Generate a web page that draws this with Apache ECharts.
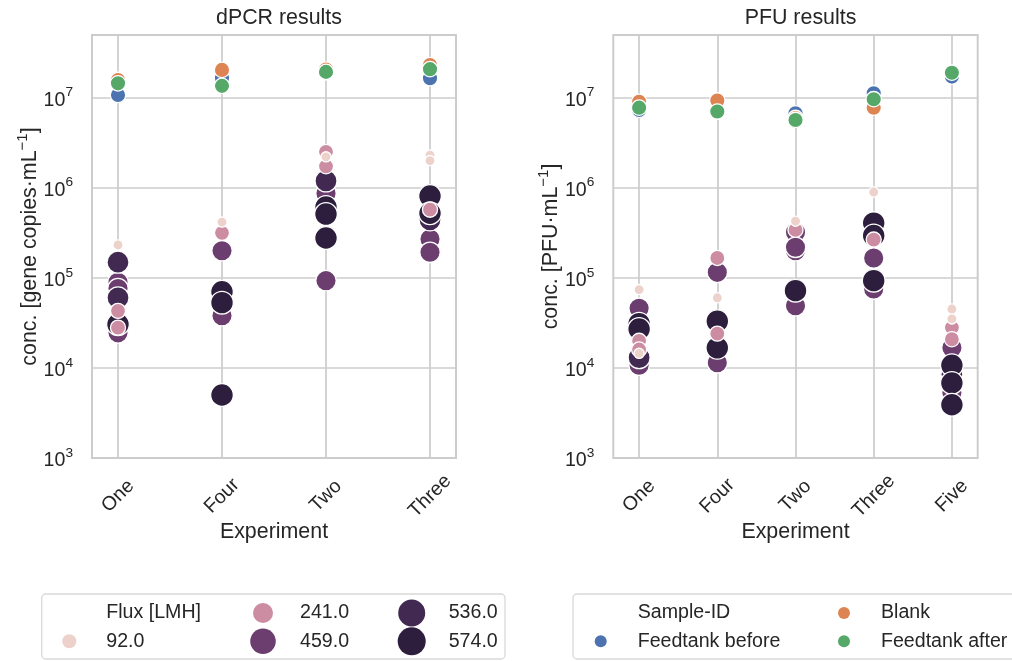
<!DOCTYPE html>
<html>
<head>
<meta charset="utf-8">
<script src="https://cdn.jsdelivr.net/npm/echarts@6/dist/echarts.min.js"></script>
<style>
  html, body { margin: 0; padding: 0; background: #ffffff; }
  #chart { width: 1012px; height: 661px; }
</style>
</head>
<body>
<div id="chart"></div>
<script>
// ---- data -----------------------------------------------------------------
const dpcrExperiments = ['One', 'Four', 'Two', 'Three'];
const pfuExperiments = ['One', 'Four', 'Two', 'Three', 'Five'];
const yTickExponents = [3, 4, 5, 6, 7];
const fluxLabels = ['92.0', '241.0', '459.0', '536.0', '574.0'];
const sampleLabels = ['Feedtank before', 'Blank', 'Feedtank after'];

// feed / blank samples, one value per experiment (null = not measured)
const dpcrFeedBefore = [1.07e7, 1.64e7, 1.9e7, 1.64e7];
const dpcrBlank = [1.57e7, 2.03e7, 2.05e7, 2.3e7];
const dpcrFeedAfter = [1.44e7, 1.35e7, 1.93e7, 2.07e7];
const pfuFeedBefore = [7.3e6, 7.0e6, 6.7e6, 1.12e7, 1.71e7];
const pfuBlank = [9.0e6, 9.3e6, 5.95e6, 7.74e6, null];
const pfuFeedAfter = [7.74e6, 7.0e6, 5.65e6, 9.6e6, 1.89e7];

// permeate samples per flux level: [experiment, concentration]
const dpcr92 = [['One', 2.32e5], ['Four', 4.15e5], ['Two', 2.2e6], ['Three', 2.3e6], ['Three', 2.0e6]];
const dpcr241 = [['One', 4.3e4], ['One', 2.8e4], ['Four', 3.16e5], ['Two', 2.5e6], ['Two', 1.73e6], ['Three', 5.7e5]];
const dpcr459 = [['One', 8.9e4], ['One', 7.6e4], ['One', 2.45e4], ['Four', 2.0e5], ['Four', 3.8e4],
                 ['Two', 8.6e5], ['Two', 9.3e4], ['Three', 2.7e5], ['Three', 1.92e5]];
const dpcr536 = [['One', 1.49e5], ['One', 6.0e4], ['Two', 1.19e6], ['Three', 4.4e5]];
const dpcr574 = [['One', 3.05e4], ['Four', 7.0e4], ['Four', 5.3e4], ['Four', 5.0e3], ['Two', 6.1e5],
                 ['Two', 5.1e5], ['Two', 2.77e5], ['Three', 8.1e5], ['Three', 5.2e5]];

const pfu92 = [['One', 7.4e4], ['One', 1.45e4], ['Four', 6.0e4], ['Two', 4.25e5], ['Three', 8.95e5],
               ['Five', 4.5e4], ['Five', 3.5e4]];
const pfu241 = [['One', 2.0e4], ['One', 1.6e4], ['Four', 1.66e5], ['Four', 2.4e4], ['Two', 3.4e5],
                ['Three', 2.66e5], ['Five', 2.8e4], ['Five', 2.08e4]];
const pfu459 = [['One', 4.6e4], ['One', 1.07e4], ['Four', 1.15e5], ['Four', 1.14e4], ['Two', 3.2e5],
                ['Two', 2.0e5], ['Two', 2.18e5], ['Two', 4.9e4], ['Three', 1.66e5], ['Three', 7.5e4],
                ['Five', 1.67e4], ['Five', 5.3e3]];
const pfu536 = [['One', 1.3e4], ['Five', 8.5e3]];
const pfu574 = [['One', 3.1e4], ['One', 2.7e4], ['Four', 3.3e4], ['Four', 1.67e4],
                ['Two', 7.2e4], ['Three', 4.05e5], ['Three', 2.95e5], ['Three', 9.3e4], ['Five', 1.07e4],
                ['Five', 6.8e3], ['Five', 3.9e3]];

const dpcrFlux = [dpcr92, dpcr241, dpcr459, dpcr536, dpcr574];
const pfuFlux = [pfu92, pfu241, pfu459, pfu536, pfu574];
const dpcrSamples = [dpcrFeedBefore, dpcrBlank, dpcrFeedAfter];
const pfuSamples = [pfuFeedBefore, pfuBlank, pfuFeedAfter];

// ---- styling ----------------------------------------------------------------
const FONT = '"Liberation Sans", Arial, Helvetica, sans-serif';
const TEXT = '#262626';
const GRID = '#cccccc';
const FRAME = '#d9d9d9';
const fluxColors = ['#EDD1CB', '#CC8CA1', '#6B3E6F', '#412951', '#2D1E3E'];
const fluxMarker = [10.2, 15.1, 20.4, 22.0, 22.7];
const fluxIcon = [14, 20, 25.5, 27, 28];
const sampleColors = ['#4C72B0', '#DD8452', '#55A868'];
const sampleMarker = 15.4;
const sampleIcon = 12;
// light markers are painted last so they stay visible
const fluxPaintOrder = [2, 3, 4, 1, 0];

const ICON_W = 46, ICON_H = 28, ICON_CX = 14;
// the two bare moveTo points fix the icon box, so every row has the same height
function circleIcon(d) {
  const box = 'path://M0 0M' + ICON_W + ' ' + ICON_H;
  if (!d) return box;
  const r = d / 2, cy = ICON_H / 2;
  return box + 'M' + ICON_CX + ' ' + (cy - r) +
    'A' + r + ' ' + r + ' 0 1 1 ' + ICON_CX + ' ' + (cy + r) +
    'A' + r + ' ' + r + ' 0 1 1 ' + ICON_CX + ' ' + (cy - r) + 'Z';
}

function logLabel(v) {
  const e = Math.round(Math.log10(v));
  if (Math.abs(Math.log10(v) - e) > 1e-6 || yTickExponents.indexOf(e) < 0) return '';
  return '{b|10}{e|' + e + '}';
}

function xAxis(gridIndex, cats, pad) {
  const idx = cats.map((_, i) => i);
  return {
    type: 'value', gridIndex: gridIndex, min: -pad, max: cats.length - 1 + pad,
    axisLine: { show: false },
    axisTick: { show: false, customValues: idx },
    splitLine: { show: true, lineStyle: { color: GRID, width: 1.7 } },
    axisLabel: {
      customValues: idx,
      formatter: v => cats[Math.round(v)],
      rotate: 45, align: 'center', verticalAlign: 'middle', margin: 38,
      fontSize: 19.6, color: TEXT, fontFamily: FONT
    },
    name: 'Experiment', nameLocation: 'middle', nameGap: 64, nameMoveOverlap: false,
    nameTextStyle: { fontSize: 21.4, color: TEXT, fontFamily: FONT }
  };
}

function yAxis(gridIndex, unit) {
  return {
    type: 'log', logBase: 10, gridIndex: gridIndex, min: 1e3, max: Math.pow(10, 7.695),
    axisLine: { show: false }, axisTick: { show: false },
    splitLine: { show: true, lineStyle: { color: GRID, width: 1.7 } },
    axisLabel: {
      margin: 19, formatter: logLabel, color: TEXT, fontFamily: FONT,
      rich: {
        b: { fontSize: 19.6, lineHeight: 22, padding: [6, 0, 0, 0], color: TEXT, fontFamily: FONT },
        e: { fontSize: 13.7, lineHeight: 14, padding: [4, 0, 14, 0], color: TEXT, fontFamily: FONT }
      }
    },
    name: '{n|conc. [' + unit + '·mL}{s|−1}{n|]}',
    nameLocation: 'middle', nameGap: 49, nameMoveOverlap: false,
    nameTextStyle: {
      rich: {
        n: { fontSize: 21.4, lineHeight: 26, color: TEXT, fontFamily: FONT },
        s: { fontSize: 15, lineHeight: 16, padding: [0, 0, 14, 0], color: TEXT, fontFamily: FONT }
      }
    }
  };
}

const series = [
  { type: 'scatter', name: 'Flux [LMH]', data: [], xAxisIndex: 0, yAxisIndex: 0 },
  { type: 'scatter', name: 'Sample-ID', data: [], xAxisIndex: 0, yAxisIndex: 0 }
];

[[dpcrFlux, dpcrSamples, dpcrExperiments], [pfuFlux, pfuSamples, pfuExperiments]].forEach((set, ax) => {
  const [fluxSets, sampleSets, cats] = set;
  fluxPaintOrder.forEach(k => {
    series.push({
      type: 'scatter', name: fluxLabels[k], xAxisIndex: ax, yAxisIndex: ax,
      data: fluxSets[k].map(p => [cats.indexOf(p[0]), p[1]]),
      symbol: 'circle', symbolSize: fluxMarker[k],
      itemStyle: { color: fluxColors[k], borderColor: '#ffffff', borderWidth: 1.3, opacity: 1 },
      emphasis: { disabled: true }
    });
  });
  sampleSets.forEach((vals, k) => {
    series.push({
      type: 'scatter', name: sampleLabels[k], xAxisIndex: ax, yAxisIndex: ax,
      data: vals.map((v, i) => [i, v]).filter(p => p[1] != null),
      symbol: 'circle', symbolSize: sampleMarker,
      itemStyle: { color: sampleColors[k], borderColor: '#ffffff', borderWidth: 1.3, opacity: 1 },
      emphasis: { disabled: true }
    });
  });
});

// one legend component per legend column; the frames are drawn as graphics
function legendColumn(left, names) {
  return {
    orient: 'vertical', left: left, top: 599, padding: 0,
    itemWidth: ICON_W, itemHeight: ICON_H, itemGap: 0.3, selectedMode: false,
    itemStyle: { borderWidth: 0 },
    textStyle: { fontSize: 19.6, color: TEXT, fontFamily: FONT },
    data: names.map(n => {
      const f = fluxLabels.indexOf(n), s = sampleLabels.indexOf(n);
      const d = f >= 0 ? fluxIcon[f] : s >= 0 ? sampleIcon : 0;
      return { name: n, icon: circleIcon(d) };
    })
  };
}

const chart = echarts.init(document.getElementById('chart'), null, { renderer: 'canvas' });
chart.setOption({
  animation: false,
  backgroundColor: '#ffffff',
  textStyle: { fontFamily: FONT },
  title: [
    { text: 'dPCR results', left: 274, top: 3, textAlign: 'center',
      textStyle: { fontSize: 21.4, fontWeight: 'normal', color: TEXT, fontFamily: FONT } },
    { text: 'PFU results', left: 795.5, top: 3, textAlign: 'center',
      textStyle: { fontSize: 21.4, fontWeight: 'normal', color: TEXT, fontFamily: FONT } }
  ],
  grid: [
    { left: 92, top: 35, width: 364, height: 423, show: true, borderColor: GRID, borderWidth: 2,
      containLabel: false, outerBoundsMode: 'none' },
    { left: 613.3, top: 35, width: 364.4, height: 423, show: true, borderColor: GRID, borderWidth: 2,
      containLabel: false, outerBoundsMode: 'none' }
  ],
  xAxis: [xAxis(0, dpcrExperiments, 0.25), xAxis(1, pfuExperiments, 0.33)],
  yAxis: [yAxis(0, 'gene copies'), yAxis(1, 'PFU')],
  legend: [
    legendColumn(55.3, ['Flux [LMH]', '92.0']),
    legendColumn(249, ['241.0', '459.0']),
    legendColumn(397.7, ['536.0', '574.0']),
    legendColumn(586.7, ['Sample-ID', 'Feedtank before']),
    legendColumn(830, ['Blank', 'Feedtank after'])
  ],
  graphic: [
    { type: 'rect', silent: true, z: -1,
      shape: { x: 41.7, y: 594, width: 463.3, height: 65, r: 4 },
      style: { fill: '#ffffff', stroke: FRAME, lineWidth: 1.3 } },
    { type: 'rect', silent: true, z: -1,
      shape: { x: 573, y: 594, width: 460, height: 65, r: 4 },
      style: { fill: '#ffffff', stroke: FRAME, lineWidth: 1.3 } }
  ],
  series: series
});
</script>
</body>
</html>
